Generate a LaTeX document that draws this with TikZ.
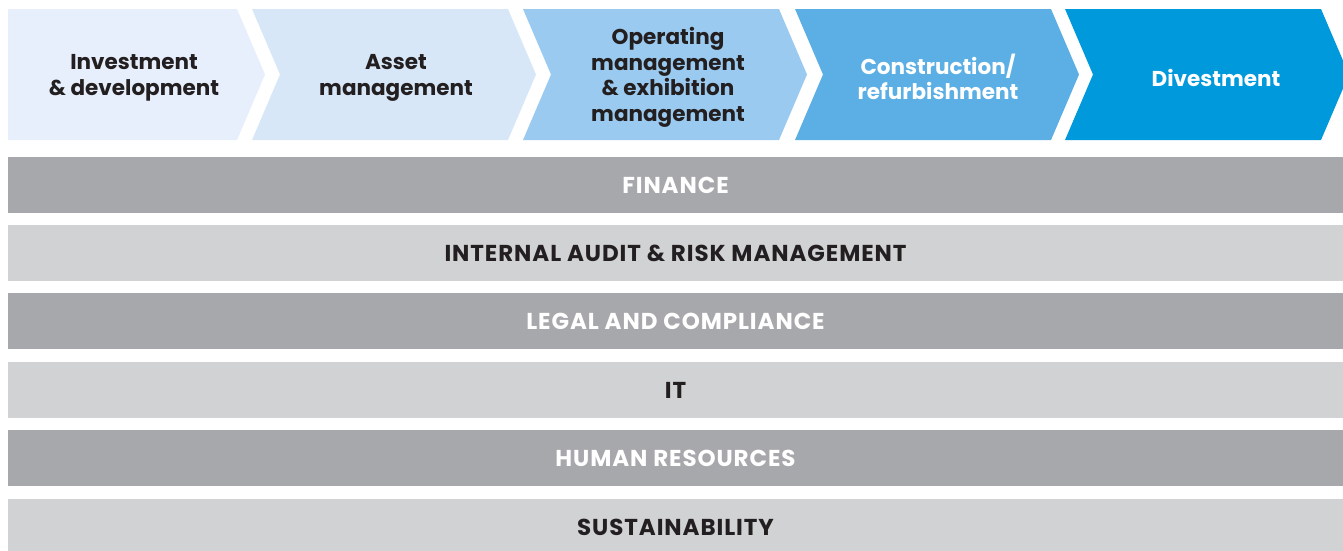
\documentclass[tikz,border=0pt]{standalone}
\usepackage{fontspec}
\setmainfont{Poppins}
\newfontfamily\barfont{Poppins}[LetterSpace=4]
\usetikzlibrary{positioning}
\definecolor{chevA}{HTML}{E6EFFB}
\definecolor{chevB}{HTML}{D7E7F8}
\definecolor{chevC}{HTML}{9ACAEF}
\definecolor{chevD}{HTML}{5BAFE4}
\definecolor{chevE}{HTML}{0099DC}
\definecolor{grisfonce}{HTML}{A7A8AB}
\definecolor{grisclair}{HTML}{D1D2D4}
\definecolor{texte}{HTML}{231F20}

\begin{document}
\begin{tikzpicture}[
    x=1pt, y=-1pt,
    label/.style={
        align=center,
        font=\fontsize{21.5}{25.5}\selectfont\bfseries,
        text=texte,
        inner sep=0pt
    },
    labelw/.style={label, text=white},
    bar/.style={
        minimum width=1335pt,
        minimum height=56pt,
        inner sep=0pt,
        font=\barfont\fontsize{23}{24}\selectfont\bfseries
    },
    bardark/.style={bar, fill=grisfonce, text=white},
    barlight/.style={bar, fill=grisclair, text=texte}
]
\useasboundingbox (0,0) rectangle (1343,550);

% === Chevrons ===
\fill[chevA] (8,9) -- (237,9) -- (265,74.5) -- (237,140) -- (8,140) -- cycle;
\foreach \x/\c in {252/chevB, 523/chevC, 795/chevD, 1065/chevE}
  \fill[\c] (\x,9) -- ++(256,0) -- ++(28,65.5) -- ++(-28,65.5) -- ++(-256,0) -- ++(28,-65.5) -- cycle;

\node[label] (invest) at (134,78) {Investment\\\& development};
\node[label] (asset) at (396,78) {Asset\\management};
\node[label] (operating) at (668,77.5) {Operating\\management\\\& exhibition\\management};
\node[labelw] (construction) at (938,77) {Construction/\\refurbishment};
\node[labelw] (divest) at (1216,78) {Divestment};

% === Fonctions support ===
\node[bardark] (finance) at (675.5,185) {FINANCE};
\node[barlight] (audit) at (675.5,253) {INTERNAL AUDIT \& RISK MANAGEMENT};
\node[bardark] (legal) at (675.5,321) {LEGAL AND COMPLIANCE};
\node[barlight] (it) at (675.5,390) {IT};
\node[bardark] (hr) at (675.5,458) {HUMAN RESOURCES};
\node[barlight] (sustain) at (675.5,527) {SUSTAINABILITY};

\end{tikzpicture}
\end{document}
